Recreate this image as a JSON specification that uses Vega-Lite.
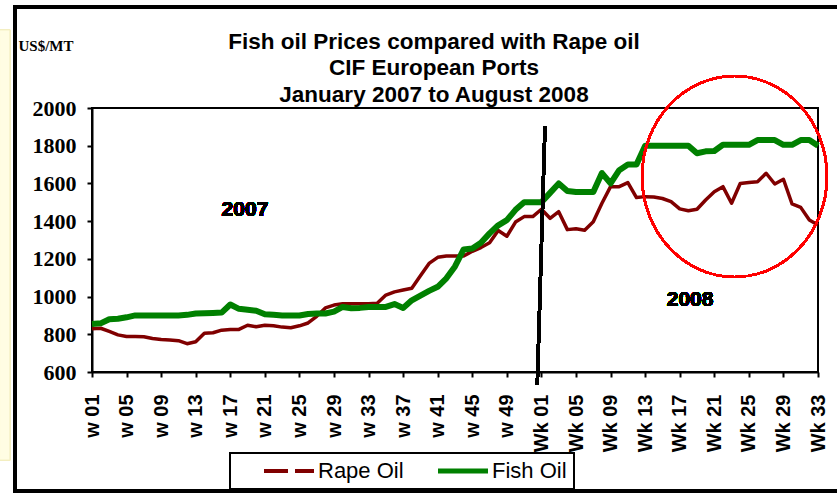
{
  "$schema": "https://vega.github.io/schema/vega-lite/v6.json",
  "width": 726,
  "height": 264,
  "autosize": {"type": "none"},
  "padding": {"left": 92, "top": 108, "right": 19, "bottom": 122},
  "background": "white",
  "title": {
    "text": ["Fish oil Prices compared with Rape oil", "CIF European Ports", "January 2007 to August 2008"],
    "font": "Liberation Sans",
    "fontSize": 22.5,
    "fontWeight": "bold",
    "lineHeight": 26.5,
    "anchor": "middle",
    "color": "black",
    "dx": -21,
    "dy": 109,
    "offset": 8
  },
  "config": {
    "view": {"stroke": "black", "strokeWidth": 2},
    "axis": {"grid": false, "domainColor": "black", "domainWidth": 2, "tickColor": "black", "tickWidth": 2, "tickSize": 5, "labelColor": "black", "labelOverlap": false, "labelFlush": false},
    "axisX": {"labelAngle": -90, "labelAlign": "right", "labelBaseline": "middle", "labelFont": "Liberation Sans", "labelFontSize": 20, "labelFontWeight": "bold", "labelPadding": 17, "labelBound": false},
    "axisY": {"labelFont": "Liberation Serif", "labelFontSize": 22, "labelFontWeight": "bold", "labelPadding": 11}
  },
  "resolve": {"axis": {"x": "independent", "y": "independent"}},
  "data": {
    "values": [
      {"t":1,"week":"w 01","series":"Rape Oil","price":830},{"t":2,"week":"w 02","series":"Rape Oil","price":832},{"t":3,"week":"w 03","series":"Rape Oil","price":815},{"t":4,"week":"w 04","series":"Rape Oil","price":797},{"t":5,"week":"w 05","series":"Rape Oil","price":788},{"t":6,"week":"w 06","series":"Rape Oil","price":788},{"t":7,"week":"w 07","series":"Rape Oil","price":787},{"t":8,"week":"w 08","series":"Rape Oil","price":778},{"t":9,"week":"w 09","series":"Rape Oil","price":772},{"t":10,"week":"w 10","series":"Rape Oil","price":770},
      {"t":11,"week":"w 11","series":"Rape Oil","price":766},{"t":12,"week":"w 12","series":"Rape Oil","price":750},{"t":13,"week":"w 13","series":"Rape Oil","price":760},{"t":14,"week":"w 14","series":"Rape Oil","price":806},{"t":15,"week":"w 15","series":"Rape Oil","price":808},{"t":16,"week":"w 16","series":"Rape Oil","price":822},{"t":17,"week":"w 17","series":"Rape Oil","price":826},{"t":18,"week":"w 18","series":"Rape Oil","price":826},{"t":19,"week":"w 19","series":"Rape Oil","price":848},{"t":20,"week":"w 20","series":"Rape Oil","price":840},
      {"t":21,"week":"w 21","series":"Rape Oil","price":848},{"t":22,"week":"w 22","series":"Rape Oil","price":845},{"t":23,"week":"w 23","series":"Rape Oil","price":838},{"t":24,"week":"w 24","series":"Rape Oil","price":835},{"t":25,"week":"w 25","series":"Rape Oil","price":845},{"t":26,"week":"w 26","series":"Rape Oil","price":860},{"t":27,"week":"w 27","series":"Rape Oil","price":895},{"t":28,"week":"w 28","series":"Rape Oil","price":940},{"t":29,"week":"w 29","series":"Rape Oil","price":955},{"t":30,"week":"w 30","series":"Rape Oil","price":962},
      {"t":31,"week":"w 31","series":"Rape Oil","price":962},{"t":32,"week":"w 32","series":"Rape Oil","price":962},{"t":33,"week":"w 33","series":"Rape Oil","price":962},{"t":34,"week":"w 34","series":"Rape Oil","price":964},{"t":35,"week":"w 35","series":"Rape Oil","price":1008},{"t":36,"week":"w 36","series":"Rape Oil","price":1025},{"t":37,"week":"w 37","series":"Rape Oil","price":1035},{"t":38,"week":"w 38","series":"Rape Oil","price":1044},{"t":39,"week":"w 39","series":"Rape Oil","price":1110},{"t":40,"week":"w 40","series":"Rape Oil","price":1176},
      {"t":41,"week":"w 41","series":"Rape Oil","price":1208},{"t":42,"week":"w 42","series":"Rape Oil","price":1215},{"t":43,"week":"w 43","series":"Rape Oil","price":1215},{"t":44,"week":"w 44","series":"Rape Oil","price":1215},{"t":45,"week":"w 45","series":"Rape Oil","price":1240},{"t":46,"week":"w 46","series":"Rape Oil","price":1260},{"t":47,"week":"w 47","series":"Rape Oil","price":1285},{"t":48,"week":"w 48","series":"Rape Oil","price":1350},{"t":49,"week":"w 49","series":"Rape Oil","price":1320},{"t":50,"week":"w 50","series":"Rape Oil","price":1395},
      {"t":51,"week":"w 51","series":"Rape Oil","price":1424},{"t":52,"week":"w 52","series":"Rape Oil","price":1424},{"t":53,"week":"Wk 01","series":"Rape Oil","price":1463},{"t":54,"week":"Wk 02","series":"Rape Oil","price":1415},{"t":55,"week":"Wk 03","series":"Rape Oil","price":1450},{"t":56,"week":"Wk 04","series":"Rape Oil","price":1355},{"t":57,"week":"Wk 05","series":"Rape Oil","price":1360},{"t":58,"week":"Wk 06","series":"Rape Oil","price":1352},{"t":59,"week":"Wk 07","series":"Rape Oil","price":1397},{"t":60,"week":"Wk 08","series":"Rape Oil","price":1495},
      {"t":61,"week":"Wk 09","series":"Rape Oil","price":1583},{"t":62,"week":"Wk 10","series":"Rape Oil","price":1583},{"t":63,"week":"Wk 11","series":"Rape Oil","price":1604},{"t":64,"week":"Wk 12","series":"Rape Oil","price":1525},{"t":65,"week":"Wk 13","series":"Rape Oil","price":1530},{"t":66,"week":"Wk 14","series":"Rape Oil","price":1528},{"t":67,"week":"Wk 15","series":"Rape Oil","price":1520},{"t":68,"week":"Wk 16","series":"Rape Oil","price":1503},{"t":69,"week":"Wk 17","series":"Rape Oil","price":1465},{"t":70,"week":"Wk 18","series":"Rape Oil","price":1455},
      {"t":71,"week":"Wk 19","series":"Rape Oil","price":1463},{"t":72,"week":"Wk 20","series":"Rape Oil","price":1512},{"t":73,"week":"Wk 21","series":"Rape Oil","price":1556},{"t":74,"week":"Wk 22","series":"Rape Oil","price":1583},{"t":75,"week":"Wk 23","series":"Rape Oil","price":1495},{"t":76,"week":"Wk 24","series":"Rape Oil","price":1600},{"t":77,"week":"Wk 25","series":"Rape Oil","price":1605},{"t":78,"week":"Wk 26","series":"Rape Oil","price":1609},{"t":79,"week":"Wk 27","series":"Rape Oil","price":1654},{"t":80,"week":"Wk 28","series":"Rape Oil","price":1597},
      {"t":81,"week":"Wk 29","series":"Rape Oil","price":1622},{"t":82,"week":"Wk 30","series":"Rape Oil","price":1491},{"t":83,"week":"Wk 31","series":"Rape Oil","price":1473},{"t":84,"week":"Wk 32","series":"Rape Oil","price":1406},{"t":85,"week":"Wk 33","series":"Rape Oil","price":1380},

      {"t":1,"week":"w 01","series":"Fish Oil","price":855},{"t":2,"week":"w 02","series":"Fish Oil","price":858},{"t":3,"week":"w 03","series":"Fish Oil","price":880},{"t":4,"week":"w 04","series":"Fish Oil","price":882},{"t":5,"week":"w 05","series":"Fish Oil","price":890},{"t":6,"week":"w 06","series":"Fish Oil","price":900},{"t":7,"week":"w 07","series":"Fish Oil","price":900},{"t":8,"week":"w 08","series":"Fish Oil","price":900},{"t":9,"week":"w 09","series":"Fish Oil","price":900},{"t":10,"week":"w 10","series":"Fish Oil","price":900},
      {"t":11,"week":"w 11","series":"Fish Oil","price":900},{"t":12,"week":"w 12","series":"Fish Oil","price":903},{"t":13,"week":"w 13","series":"Fish Oil","price":910},{"t":14,"week":"w 14","series":"Fish Oil","price":912},{"t":15,"week":"w 15","series":"Fish Oil","price":913},{"t":16,"week":"w 16","series":"Fish Oil","price":915},{"t":17,"week":"w 17","series":"Fish Oil","price":958},{"t":18,"week":"w 18","series":"Fish Oil","price":935},{"t":19,"week":"w 19","series":"Fish Oil","price":930},{"t":20,"week":"w 20","series":"Fish Oil","price":925},
      {"t":21,"week":"w 21","series":"Fish Oil","price":906},{"t":22,"week":"w 22","series":"Fish Oil","price":903},{"t":23,"week":"w 23","series":"Fish Oil","price":900},{"t":24,"week":"w 24","series":"Fish Oil","price":900},{"t":25,"week":"w 25","series":"Fish Oil","price":900},{"t":26,"week":"w 26","series":"Fish Oil","price":908},{"t":27,"week":"w 27","series":"Fish Oil","price":910},{"t":28,"week":"w 28","series":"Fish Oil","price":910},{"t":29,"week":"w 29","series":"Fish Oil","price":920},{"t":30,"week":"w 30","series":"Fish Oil","price":945},
      {"t":31,"week":"w 31","series":"Fish Oil","price":938},{"t":32,"week":"w 32","series":"Fish Oil","price":940},{"t":33,"week":"w 33","series":"Fish Oil","price":945},{"t":34,"week":"w 34","series":"Fish Oil","price":945},{"t":35,"week":"w 35","series":"Fish Oil","price":945},{"t":36,"week":"w 36","series":"Fish Oil","price":960},{"t":37,"week":"w 37","series":"Fish Oil","price":940},{"t":38,"week":"w 38","series":"Fish Oil","price":980},{"t":39,"week":"w 39","series":"Fish Oil","price":1005},{"t":40,"week":"w 40","series":"Fish Oil","price":1030},
      {"t":41,"week":"w 41","series":"Fish Oil","price":1052},{"t":42,"week":"w 42","series":"Fish Oil","price":1097},{"t":43,"week":"w 43","series":"Fish Oil","price":1160},{"t":44,"week":"w 44","series":"Fish Oil","price":1250},{"t":45,"week":"w 45","series":"Fish Oil","price":1255},{"t":46,"week":"w 46","series":"Fish Oil","price":1285},{"t":47,"week":"w 47","series":"Fish Oil","price":1335},{"t":48,"week":"w 48","series":"Fish Oil","price":1378},{"t":49,"week":"w 49","series":"Fish Oil","price":1405},{"t":50,"week":"w 50","series":"Fish Oil","price":1460},
      {"t":51,"week":"w 51","series":"Fish Oil","price":1500},{"t":52,"week":"w 52","series":"Fish Oil","price":1500},{"t":53,"week":"Wk 01","series":"Fish Oil","price":1500},{"t":54,"week":"Wk 02","series":"Fish Oil","price":1550},{"t":55,"week":"Wk 03","series":"Fish Oil","price":1600},{"t":56,"week":"Wk 04","series":"Fish Oil","price":1560},{"t":57,"week":"Wk 05","series":"Fish Oil","price":1555},{"t":58,"week":"Wk 06","series":"Fish Oil","price":1555},{"t":59,"week":"Wk 07","series":"Fish Oil","price":1555},{"t":60,"week":"Wk 08","series":"Fish Oil","price":1655},
      {"t":61,"week":"Wk 09","series":"Fish Oil","price":1600},{"t":62,"week":"Wk 10","series":"Fish Oil","price":1670},{"t":63,"week":"Wk 11","series":"Fish Oil","price":1700},{"t":64,"week":"Wk 12","series":"Fish Oil","price":1700},{"t":65,"week":"Wk 13","series":"Fish Oil","price":1800},{"t":66,"week":"Wk 14","series":"Fish Oil","price":1800},{"t":67,"week":"Wk 15","series":"Fish Oil","price":1800},{"t":68,"week":"Wk 16","series":"Fish Oil","price":1800},{"t":69,"week":"Wk 17","series":"Fish Oil","price":1800},{"t":70,"week":"Wk 18","series":"Fish Oil","price":1800},
      {"t":71,"week":"Wk 19","series":"Fish Oil","price":1760},{"t":72,"week":"Wk 20","series":"Fish Oil","price":1770},{"t":73,"week":"Wk 21","series":"Fish Oil","price":1772},{"t":74,"week":"Wk 22","series":"Fish Oil","price":1805},{"t":75,"week":"Wk 23","series":"Fish Oil","price":1805},{"t":76,"week":"Wk 24","series":"Fish Oil","price":1805},{"t":77,"week":"Wk 25","series":"Fish Oil","price":1805},{"t":78,"week":"Wk 26","series":"Fish Oil","price":1830},{"t":79,"week":"Wk 27","series":"Fish Oil","price":1830},{"t":80,"week":"Wk 28","series":"Fish Oil","price":1830},
      {"t":81,"week":"Wk 29","series":"Fish Oil","price":1805},{"t":82,"week":"Wk 30","series":"Fish Oil","price":1805},{"t":83,"week":"Wk 31","series":"Fish Oil","price":1830},{"t":84,"week":"Wk 32","series":"Fish Oil","price":1830},{"t":85,"week":"Wk 33","series":"Fish Oil","price":1800}
    ]
  },
  "layer": [
    {
      "mark": {"type": "rect", "fill": "#fffde3", "stroke": "#f3eec0", "strokeWidth": 1},
      "encoding": {
        "x": {"datum": -9.7, "type": "quantitative", "axis": null},
        "x2": {"datum": -8.5},
        "y": {"datum": 2414, "type": "quantitative", "axis": null},
        "y2": {"datum": 133}
      }
    },
    {
      "transform": [{"filter": "datum.series === 'Rape Oil'"}],
      "mark": {"type": "line", "strokeWidth": 3.5, "strokeJoin": "round"},
      "encoding": {
        "x": {
          "field": "t", "type": "quantitative",
          "scale": {"domain": [1, 85], "nice": false, "zero": false},
          "axis": {
            "title": null,
            "values": [1,5,9,13,17,21,25,29,33,37,41,45,49,53,57,61,65,69,73,77,81,85],
            "labelExpr": "datum.value <= 52 ? 'w ' + (datum.value < 10 ? '0' : '') + datum.value : 'Wk ' + (datum.value - 52 < 10 ? '0' : '') + (datum.value - 52)",
            "labelOverlap": false
          }
        },
        "y": {
          "field": "price", "type": "quantitative",
          "scale": {"domain": [600, 2000], "nice": false, "zero": false},
          "axis": {
            "title": "US$/MT",
            "titleAngle": 0,
            "titleX": -74,
            "titleY": -63,
            "titleAlign": "left",
            "titleBaseline": "middle",
            "titleFont": "Liberation Serif",
            "titleFontSize": 15,
            "titleFontWeight": "bold",
            "titleColor": "black",
            "values": [600,800,1000,1200,1400,1600,1800,2000],
            "format": "d",
            "labelOverlap": false
          }
        },
        "color": {
          "field": "series", "type": "nominal",
          "scale": {"domain": ["Rape Oil", "Fish Oil"], "range": ["#800000", "#008000"]},
          "legend": {
            "title": null,
            "orient": "none",
            "legendX": 138,
            "legendY": 345,
            "direction": "horizontal",
            "columns": 2,
            "gridAlign": "all",
            "symbolType": "stroke",
            "symbolSize": 2500,
            "symbolStrokeWidth": 4,
            "symbolOffset": 41,
            "labelOffset": 18,
            "labelFont": "Liberation Sans",
            "labelFontSize": 22,
            "labelColor": "black",
            "labelLimit": 300,
            "columnPadding": 7,
            "padding": 7,
            "strokeColor": "black",
            "fillColor": "white",
            "encode": {
              "legend": {"update": {"strokeWidth": {"value": 2}}},
              "symbols": {"update": {
                "strokeDash": {"signal": "datum.value === 'Rape Oil' ? [24, 7] : [1, 0]"},
                "strokeWidth": {"signal": "datum.value === 'Rape Oil' ? 4 : 5"}
              }}
            }
          }
        }
      }
    },
    {
      "transform": [{"filter": "datum.series === 'Fish Oil'"}],
      "mark": {"type": "line", "strokeWidth": 6, "strokeJoin": "round"},
      "encoding": {
        "x": {"field": "t", "type": "quantitative", "axis": null},
        "y": {"field": "price", "type": "quantitative", "axis": null},
        "color": {"field": "series", "type": "nominal"}
      }
    },
    {
      "mark": {"type": "rule", "color": "black", "strokeWidth": 3},
      "encoding": {
        "x": {"datum": 53.41, "type": "quantitative", "axis": null},
        "y": {"datum": 1901, "type": "quantitative", "axis": null},
        "x2": {"datum": 52.52},
        "y2": {"datum": 531}
      }
    },
    {
      "mark": {"type": "point", "shape": "M -0.92 0 A 0.92 1 0 1 0 0.92 0 A 0.92 1 0 1 0 -0.92 0 Z", "filled": false, "stroke": "#ff0000", "strokeWidth": 2, "size": 40401, "opacity": 1},
      "encoding": {
        "x": {"datum": 75.34, "type": "quantitative", "axis": null},
        "y": {"datum": 1637, "type": "quantitative", "axis": null}
      }
    },
    {
      "mark": {"type": "text", "text": "2007", "font": "Liberation Sans", "fontSize": 21, "fontWeight": "bold", "fill": "black", "align": "center", "baseline": "middle"},
      "encoding": {
        "x": {"datum": 18.7, "type": "quantitative", "axis": null},
        "y": {"datum": 1459, "type": "quantitative", "axis": null}
      }
    },
    {
      "mark": {"type": "text", "text": "2008", "font": "Liberation Sans", "fontSize": 21, "fontWeight": "bold", "fill": "black", "align": "center", "baseline": "middle"},
      "encoding": {
        "x": {"datum": 70.2, "type": "quantitative", "axis": null},
        "y": {"datum": 982, "type": "quantitative", "axis": null}
      }
    },
    {
      "mark": {"type": "rect", "filled": false, "stroke": "black", "strokeWidth": 3},
      "encoding": {
        "x": {"datum": -7.91, "type": "quantitative", "axis": null},
        "x2": {"datum": 92},
        "y": {"datum": 2536, "type": "quantitative", "axis": null},
        "y2": {"datum": -31}
      }
    }
  ]
}
